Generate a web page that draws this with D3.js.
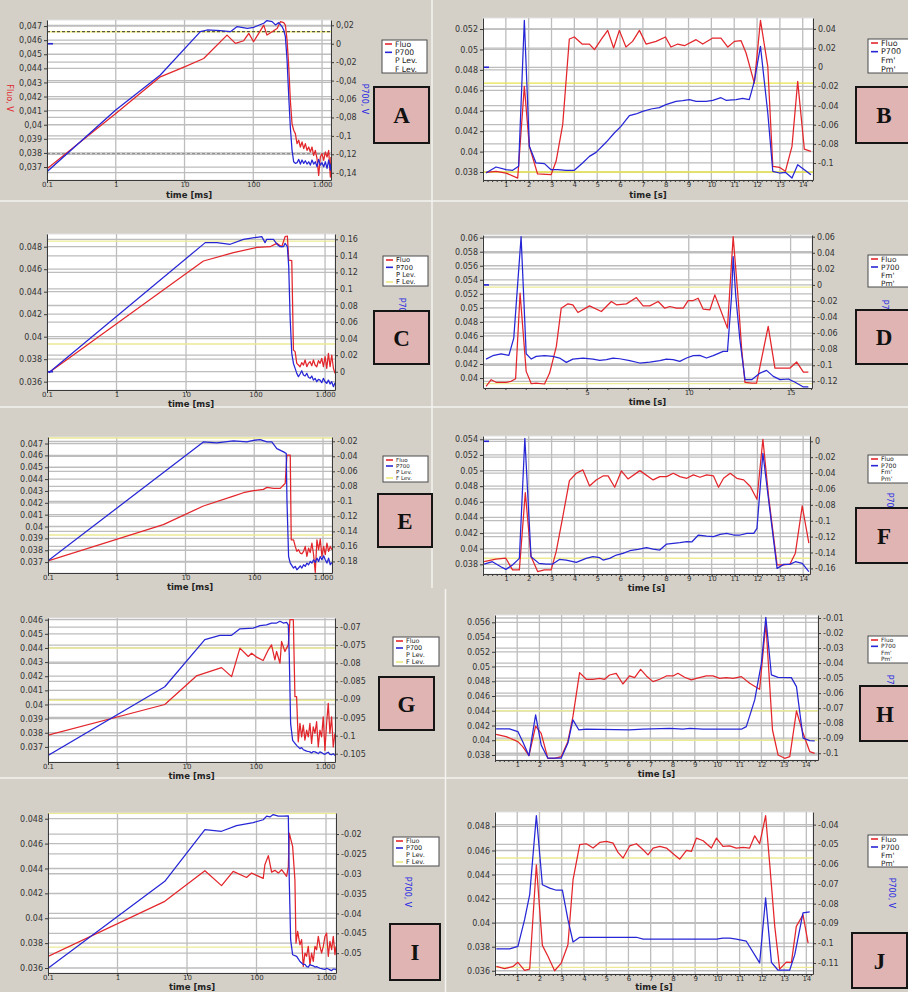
<!DOCTYPE html>
<html>
<head>
<meta charset="utf-8">
<script src="https://cdn.jsdelivr.net/npm/d3@7"></script>
<style>
  html, body { margin: 0; padding: 0; background: #d4d0c8; }
  svg { display: block; }
</style>
</head>
<body>
<svg id="fig" width="908" height="992"></svg>
<script>
// ---------- shared axis data ----------
const logTicks = [0.1, 1, 10, 100, 1000];
const logTickLabels = ["0.1", "1", "10", "100", "1.000"];
const secTicks = [1, 2, 3, 4, 5, 6, 7, 8, 9, 10, 11, 12, 13, 14];
const secTicksD = [5, 10, 15];
const legendLog = ["Fluo", "P700", "P Lev.", "F Lev."];
const legendLin = ["Fluo", "P700", "Fm'", "Pm'"];

// ---------- A : fast induction (ms, log) ----------
const fluoA = [[0.1,0.03688],[1.0,0.04079],[4.45,0.0434],[10,0.04411],[19,0.0447],[41.5,0.04636],[55,0.04577],[72.6,0.04596],[86,0.04648],[101,0.04589],[120,0.04648],[142,0.04707],[158,0.04636],[188,0.0466],[222,0.04683],[248,0.04731],[277,0.04724],[293,0.04707],[310,0.046],[328,0.04411],[346,0.04174],[366,0.04008],[387,0.03961],[409,0.03937],[433,0.03866],[458,0.0389],[484,0.03842],[512,0.03878],[541,0.0383],[572,0.03866],[605,0.03818],[640,0.03842],[676,0.03807],[715,0.03842],[756,0.03783],[799,0.03818],[845,0.03759],[893,0.03641],[945,0.03771],[999,0.03795],[1057,0.03747],[1117,0.03807],[1182,0.03771],[1249,0.03818],[1321,0.03629],[1345,0.03771]];
const p700A = [[0.1,-0.1389],[1.0,-0.0719],[4.45,-0.0339],[17,0.0131],[21.4,0.0149],[33.2,0.0142],[46.5,0.0131],[58.4,0.0186],[82,0.0167],[101,0.0178],[142,0.0222],[158,0.0251],[188,0.024],[210,0.0204],[235,0.0229],[262,0.0186],[277,0.0149],[293,0.0077],[310,-0.0176],[328,-0.0575],[346,-0.091],[366,-0.1154],[387,-0.1281],[409,-0.1299],[433,-0.1291],[458,-0.1255],[484,-0.1306],[512,-0.1262],[541,-0.1299],[572,-0.127],[605,-0.1306],[640,-0.1281],[676,-0.1317],[715,-0.1262],[756,-0.1306],[799,-0.1281],[845,-0.1335],[893,-0.1255],[945,-0.1317],[999,-0.1291],[1057,-0.1335],[1117,-0.1281],[1182,-0.1353],[1249,-0.1262],[1321,-0.1371],[1345,-0.1299]];
const leftTicksA = [0.047,0.046,0.045,0.044,0.043,0.042,0.041,0.04,0.039,0.038,0.037];
const rightTicksA = [0.02,0,-0.02,-0.04,-0.06,-0.08,-0.1,-0.12,-0.14];
const levelsA = [0.0466, 0.03795];

// ---------- B : slow kinetics (s) ----------
const fluoB = [[0.13,0.03797],[0.57,0.03807],[1.01,0.0379],[1.52,0.03741],[1.81,0.04639],[2.03,0.04051],[2.39,0.03781],[2.98,0.03774],[3.2,0.03905],[3.49,0.04264],[3.78,0.05102],[4.0,0.05122],[4.34,0.05053],[4.66,0.05053],[4.88,0.04998],[5.17,0.05096],[5.46,0.05187],[5.72,0.05014],[5.97,0.05187],[6.26,0.05024],[6.55,0.05079],[6.85,0.05187],[7.14,0.05053],[7.58,0.05079],[7.99,0.05122],[8.23,0.05024],[8.53,0.05053],[8.82,0.05037],[9.33,0.05096],[9.62,0.05053],[10.06,0.05112],[10.42,0.05112],[10.72,0.05024],[11.01,0.05079],[11.3,0.05086],[11.52,0.04965],[11.88,0.04671],[12.15,0.05285],[12.47,0.04835],[12.69,0.03856],[12.98,0.03846],[13.24,0.03807],[13.53,0.04051],[13.78,0.04688],[14.07,0.04025],[14.36,0.04002]];
const p700B = [[0.13,-0.1105],[0.57,-0.1042],[1.01,-0.107],[1.3,-0.1077],[1.56,-0.1035],[1.81,0.0491],[2.03,-0.0826],[2.32,-0.1],[2.69,-0.1007],[2.98,-0.107],[3.27,-0.107],[3.64,-0.1077],[4.0,-0.1077],[4.36,-0.1],[4.66,-0.0931],[4.95,-0.0889],[5.39,-0.0784],[5.75,-0.0687],[6.04,-0.0617],[6.41,-0.0506],[6.7,-0.0488],[6.99,-0.046],[7.36,-0.0436],[7.72,-0.0422],[8.01,-0.0391],[8.45,-0.0356],[8.74,-0.0349],[9.04,-0.0338],[9.33,-0.0356],[9.77,-0.0356],[10.06,-0.0345],[10.42,-0.0318],[10.64,-0.0345],[11.08,-0.0338],[11.37,-0.0324],[11.66,-0.0338],[11.88,-0.0147],[12.15,0.0219],[12.47,-0.0478],[12.69,-0.1087],[12.98,-0.1105],[13.24,-0.1098],[13.53,-0.1157],[13.78,-0.1018],[14.07,-0.107],[14.36,-0.1122]];
const leftTicksB = [0.052,0.05,0.048,0.046,0.044,0.042,0.04,0.038];
const rightTicksB = [0.04,0.02,0,-0.02,-0.04,-0.06,-0.08,-0.1];
const levelsB = [0.0467, 0.038];

// ---------- C ----------
const fluoC = [[0.106,0.0368],[17.8,0.04673],[48.2,0.04747],[104,0.04794],[162,0.048],[202,0.0483],[238,0.048],[266,0.04889],[287,0.04895],[300,0.04681],[332,0.04676],[351,0.03881],[371,0.03867],[392,0.03763],[414,0.03748],[437,0.03733],[462,0.03769],[489,0.03748],[516,0.03793],[546,0.03733],[577,0.03763],[609,0.03778],[644,0.03742],[680,0.03793],[719,0.03748],[760,0.03733],[803,0.03787],[848,0.03763],[896,0.03807],[947,0.03733],[1001,0.03822],[1058,0.03719],[1118,0.03852],[1181,0.03733],[1248,0.03837],[1319,0.03719],[1390,0.03674]];
const p700C = [[0.106,-0.0012],[18.9,0.156],[27.7,0.156],[43.2,0.154],[67,0.16],[104,0.1624],[123,0.1632],[137,0.156],[145,0.16],[181,0.16],[202,0.1544],[225,0.1511],[252,0.1511],[266,0.1552],[287,0.1511],[300,0.127],[314,0.0665],[332,0.0222],[351,0.01],[371,0.004],[392,-0.002],[414,-0.006],[437,-0.0028],[462,0.0012],[489,-0.004],[516,-0.0052],[546,-0.002],[577,-0.0068],[609,-0.008],[644,-0.0052],[680,-0.0101],[719,-0.008],[760,-0.0121],[803,-0.0093],[848,-0.0101],[896,-0.0133],[947,-0.008],[1001,-0.0121],[1058,-0.0141],[1118,-0.0101],[1181,-0.0149],[1248,-0.0121],[1319,-0.0181],[1390,-0.0133]];
const leftTicksC = [0.048,0.046,0.044,0.042,0.04,0.038,0.036];
const rightTicksC = [0.16,0.14,0.12,0.1,0.08,0.06,0.04,0.02,0];
const levelsC = [0.0485, 0.03935];

// ---------- D ----------
const fluoD = [[0.05,0.03882],[0.3,0.03976],[0.54,0.03939],[1.04,0.03939],[1.28,0.03953],[1.5,0.03991],[1.72,0.05209],[2.02,0.04095],[2.27,0.0392],[2.51,0.03929],[2.92,0.03915],[3.17,0.04071],[3.5,0.0445],[3.74,0.04995],[4.07,0.05057],[4.31,0.05043],[4.56,0.04934],[5.13,0.05028],[5.71,0.04948],[6.2,0.0509],[6.45,0.05043],[6.94,0.05057],[7.43,0.05147],[7.76,0.05028],[8.09,0.05028],[8.5,0.0509],[8.82,0.04995],[9.07,0.05019],[9.4,0.04995],[9.73,0.04995],[9.97,0.05104],[10.22,0.05104],[10.46,0.05137],[10.71,0.04981],[11.04,0.04972],[11.28,0.05185],[11.53,0.04995],[11.9,0.04711],[12.18,0.06014],[12.43,0.05114],[12.6,0.04403],[12.76,0.03939],[13.09,0.03929],[13.33,0.03929],[13.9,0.04735],[14.23,0.04142],[14.97,0.04142],[15.3,0.04228],[15.63,0.04085],[15.87,0.04085]];
const p700D = [[0.05,-0.0923],[0.38,-0.0881],[0.79,-0.0857],[1.17,-0.0877],[1.41,-0.0662],[1.77,0.06],[2.02,-0.0857],[2.27,-0.0923],[2.51,-0.089],[2.92,-0.0881],[3.33,-0.089],[3.66,-0.091],[3.99,-0.0964],[4.31,-0.0923],[4.81,-0.091],[5.3,-0.0923],[5.63,-0.0939],[5.96,-0.0931],[6.28,-0.091],[6.61,-0.0919],[7.1,-0.0943],[7.59,-0.0972],[8.09,-0.096],[8.58,-0.0943],[8.9,-0.0923],[9.23,-0.0931],[9.56,-0.0952],[9.89,-0.091],[10.22,-0.0881],[10.54,-0.0877],[10.87,-0.091],[11.2,-0.0881],[11.69,-0.0828],[11.9,-0.0828],[12.1,-0.0145],[12.18,0.0352],[12.31,-0.0145],[12.51,-0.0683],[12.76,-0.1179],[13.09,-0.1179],[13.5,-0.1097],[13.82,-0.1064],[14.15,-0.1138],[14.48,-0.1179],[14.89,-0.1171],[15.22,-0.1212],[15.63,-0.127],[15.87,-0.127]];
const leftTicksD = [0.06,0.058,0.056,0.054,0.052,0.05,0.048,0.046,0.044,0.042,0.04];
const rightTicksD = [0.06,0.04,0.02,0,-0.02,-0.04,-0.06,-0.08,-0.1,-0.12];
const levelsD = [0.05295, 0.0392];

// ---------- E ----------
const fluoE = [[0.1,0.03711],[4.76,0.04016],[18.2,0.04173],[49.8,0.04257],[69.6,0.04285],[97.4,0.04302],[136,0.04313],[153,0.0433],[191,0.04322],[239,0.04322],[267,0.0435],[282,0.04364],[299,0.04602],[334,0.04602],[345,0.03888],[373,0.03888],[395,0.03832],[417,0.0379],[441,0.03804],[467,0.03776],[493,0.0377],[522,0.0379],[552,0.03832],[583,0.03748],[617,0.03818],[652,0.03781],[690,0.0386],[730,0.03762],[772,0.03613],[816,0.03888],[863,0.03804],[913,0.03893],[965,0.03748],[1021,0.03832],[1079,0.03762],[1141,0.0386],[1207,0.0379],[1276,0.03832],[1350,0.03804]];
const p700E = [[0.1,-0.1791],[18.2,-0.0209],[28.4,-0.0222],[49.8,-0.0196],[78,-0.0209],[97.4,-0.0187],[122,-0.0178],[153,-0.0209],[180,-0.0209],[213,-0.0297],[267,-0.0341],[292,-0.0364],[299,-0.0982],[316,-0.1734],[334,-0.1822],[373,-0.1888],[395,-0.1866],[417,-0.1911],[441,-0.1888],[467,-0.1858],[493,-0.1888],[522,-0.1844],[552,-0.1866],[583,-0.1822],[617,-0.1844],[652,-0.18],[690,-0.1822],[730,-0.1778],[772,-0.1813],[816,-0.1756],[863,-0.18],[913,-0.1734],[965,-0.1778],[1021,-0.1725],[1079,-0.1778],[1141,-0.1822],[1207,-0.1756],[1276,-0.1844],[1350,-0.1813]];
const leftTicksE = [0.047,0.046,0.045,0.044,0.043,0.042,0.041,0.04,0.039,0.038,0.037];
const rightTicksE = [-0.02,-0.04,-0.06,-0.08,-0.1,-0.12,-0.14,-0.16,-0.18];
const levelsE = [0.04747, 0.03928];

// ---------- F ----------
const fluoF = [[0.05,0.03835],[0.56,0.03865],[1.0,0.03878],[1.29,0.03729],[1.59,0.03729],[1.85,0.04718],[2.1,0.03899],[2.39,0.03707],[2.68,0.03729],[2.98,0.03729],[3.2,0.03963],[3.49,0.04411],[3.78,0.04871],[4.08,0.04965],[4.37,0.05008],[4.66,0.04803],[4.95,0.0488],[5.25,0.04931],[5.47,0.04931],[5.76,0.04786],[6.05,0.04995],[6.34,0.04893],[6.86,0.04999],[7.44,0.0488],[7.73,0.04922],[8.03,0.04922],[8.32,0.04965],[8.61,0.04922],[8.91,0.04901],[9.2,0.04944],[9.49,0.04914],[9.78,0.04944],[10.08,0.04931],[10.3,0.04786],[10.52,0.04901],[10.81,0.04965],[11.1,0.04901],[11.4,0.0488],[11.69,0.04795],[11.98,0.04632],[12.24,0.054],[12.49,0.04667],[12.86,0.03792],[13.15,0.03792],[13.42,0.03801],[13.66,0.03942],[13.96,0.04547],[14.25,0.0407]];
const p700F = [[0.05,-0.1546],[0.41,-0.1516],[0.78,-0.1579],[1.0,-0.1613],[1.29,-0.1558],[1.59,-0.1474],[1.83,0.0038],[2.1,-0.1453],[2.45,-0.1537],[2.76,-0.1546],[3.05,-0.1546],[3.34,-0.1487],[3.64,-0.1495],[4.08,-0.1525],[4.51,-0.1474],[4.81,-0.1453],[5.1,-0.1466],[5.25,-0.1495],[5.54,-0.1474],[5.83,-0.1432],[6.12,-0.1411],[6.42,-0.1378],[6.78,-0.1361],[7.15,-0.134],[7.44,-0.1357],[7.73,-0.1369],[8.03,-0.1294],[8.32,-0.1285],[8.61,-0.1277],[8.91,-0.1264],[9.13,-0.1268],[9.42,-0.118],[9.78,-0.1193],[10.08,-0.1201],[10.37,-0.1172],[10.66,-0.1159],[10.96,-0.118],[11.25,-0.118],[11.54,-0.1159],[11.84,-0.1159],[11.98,-0.1096],[12.24,-0.0151],[12.49,-0.0739],[12.86,-0.16],[13.15,-0.155],[13.42,-0.155],[13.66,-0.1516],[13.96,-0.1537],[14.25,-0.1642]];
const leftTicksF = [0.054,0.052,0.05,0.048,0.046,0.044,0.042,0.04,0.038];
const rightTicksF = [0,-0.02,-0.04,-0.06,-0.08,-0.1,-0.12,-0.14,-0.16];
const levelsF = [0.03877];

// ---------- G ----------
const fluoG = [[0.1,0.03783],[4.86,0.04],[13.9,0.04202],[32.1,0.04261],[44.8,0.04197],[59.1,0.04399],[78,0.0434],[87.1,0.04363],[103,0.04335],[128,0.04311],[152,0.04387],[169,0.04422],[189,0.04316],[200,0.04375],[224,0.04292],[236,0.04446],[264,0.04375],[279,0.04399],[295,0.04422],[312,0.046],[349,0.046],[368,0.04055],[389,0.04055],[411,0.03736],[435,0.03866],[460,0.03771],[486,0.03854],[513,0.03748],[543,0.03819],[574,0.03771],[606,0.03866],[641,0.03724],[677,0.03842],[716,0.03795],[757,0.03878],[800,0.037],[845,0.03819],[893,0.03771],[944,0.03913],[998,0.03676],[1055,0.03866],[1115,0.04008],[1178,0.03795],[1245,0.03913],[1316,0.037],[1391,0.03795]];
const p700G = [[0.1,-0.1055],[4.86,-0.0865],[18.4,-0.0735],[30.3,-0.0723],[44.8,-0.0723],[59.1,-0.0705],[92.1,-0.0703],[115,-0.0696],[143,-0.0694],[169,-0.0689],[200,-0.0689],[224,-0.0684],[250,-0.0689],[279,-0.0687],[295,-0.0694],[305,-0.0781],[319,-0.0967],[341,-0.1013],[389,-0.1027],[435,-0.1036],[460,-0.1033],[486,-0.1039],[513,-0.1041],[543,-0.1043],[574,-0.1044],[606,-0.1045],[641,-0.1048],[677,-0.1044],[716,-0.1045],[757,-0.1047],[800,-0.105],[845,-0.1045],[893,-0.1047],[944,-0.105],[998,-0.1052],[1055,-0.1048],[1115,-0.1046],[1178,-0.1052],[1245,-0.1053],[1316,-0.105],[1391,-0.1055]];
const leftTicksG = [0.046,0.045,0.044,0.043,0.042,0.041,0.04,0.039,0.038,0.037];
const rightTicksG = [-0.07,-0.075,-0.08,-0.085,-0.09,-0.095,-0.1,-0.105];
const levelsG = [0.044, 0.0403];

// ---------- H ----------
const fluoH = [[0.05,0.0408],[0.5,0.04049],[1.03,0.03981],[1.25,0.03913],[1.53,0.03791],[1.83,0.04193],[2.08,0.04094],[2.38,0.03755],[2.68,0.03755],[2.98,0.03777],[3.28,0.03981],[3.51,0.0432],[3.81,0.04917],[4.11,0.04827],[4.41,0.04827],[4.71,0.0484],[4.94,0.04827],[5.16,0.04885],[5.46,0.04908],[5.76,0.04763],[6.06,0.04872],[6.29,0.04849],[6.56,0.04962],[6.82,0.04872],[7.12,0.04795],[7.42,0.04827],[7.72,0.04872],[8.02,0.04872],[8.24,0.04908],[8.54,0.04854],[8.84,0.04818],[9.07,0.0484],[9.52,0.04872],[9.82,0.04872],[10.12,0.0484],[10.42,0.04849],[10.72,0.0484],[11.1,0.04863],[11.47,0.04772],[11.92,0.04691],[12.2,0.05586],[12.5,0.04139],[12.75,0.038],[13.05,0.03755],[13.28,0.03777],[13.58,0.04397],[13.88,0.04094],[14.18,0.03845],[14.4,0.03822]];
const p700H = [[0.05,-0.0838],[0.65,-0.0838],[1.03,-0.0856],[1.25,-0.0923],[1.53,-0.1016],[1.83,-0.0745],[2.08,-0.0945],[2.38,-0.1033],[2.98,-0.1033],[3.28,-0.0934],[3.51,-0.0778],[3.78,-0.0845],[4.11,-0.084],[6.06,-0.0845],[6.66,-0.084],[7.87,-0.0834],[8.47,-0.084],[8.77,-0.0834],[9.37,-0.084],[11.1,-0.084],[11.32,-0.0823],[11.7,-0.0645],[12.0,-0.0402],[12.2,-0.0096],[12.45,-0.0479],[12.75,-0.0495],[13.35,-0.0497],[13.58,-0.0557],[13.88,-0.09],[14.18,-0.0916],[14.4,-0.0918]];
const leftTicksH = [0.056,0.054,0.052,0.05,0.048,0.046,0.044,0.042,0.04,0.038];
const rightTicksH = [-0.01,-0.02,-0.03,-0.04,-0.05,-0.06,-0.07,-0.08,-0.09,-0.1];
const levelsH = [0.044, 0.04];

// ---------- I ----------
const fluoI = [[0.1,0.03694],[4.79,0.04136],[18.1,0.04382],[31.4,0.04262],[46.2,0.04377],[71.9,0.04328],[84.9,0.04363],[125,0.0432],[132,0.0443],[148,0.04503],[165,0.04371],[184,0.04385],[206,0.04363],[230,0.0439],[271,0.04337],[287,0.04412],[296,0.04685],[331,0.04578],[357,0.0431],[370,0.038],[391,0.03894],[422,0.03787],[446,0.03828],[471,0.03613],[498,0.0372],[526,0.03694],[556,0.03774],[588,0.03627],[621,0.0372],[656,0.03653],[694,0.03774],[733,0.03747],[775,0.03854],[819,0.03774],[865,0.0372],[914,0.03774],[966,0.03854],[1021,0.03881],[1079,0.03694],[1140,0.03814],[1205,0.03747],[1273,0.03854],[1346,0.03707],[1391,0.03774]];
const p700I = [[0.1,-0.0538],[4.79,-0.0319],[18.1,-0.0189],[31.4,-0.0193],[51.6,-0.0179],[89.8,-0.0171],[125,-0.0164],[140,-0.0155],[156,-0.0157],[174,-0.0151],[206,-0.0155],[243,-0.0155],[287,-0.0154],[296,-0.0315],[310,-0.0466],[331,-0.0504],[378,-0.0508],[422,-0.0521],[446,-0.0525],[471,-0.0529],[498,-0.0528],[526,-0.0534],[556,-0.0535],[588,-0.0529],[621,-0.0531],[656,-0.0532],[694,-0.0535],[733,-0.0534],[775,-0.0536],[819,-0.0538],[865,-0.0539],[914,-0.054],[966,-0.0541],[1021,-0.0538],[1079,-0.054],[1140,-0.0542],[1205,-0.0544],[1273,-0.054],[1346,-0.054],[1391,-0.0542]];
const leftTicksI = [0.048,0.046,0.044,0.042,0.04,0.038,0.036];
const rightTicksI = [-0.02,-0.025,-0.03,-0.035,-0.04,-0.045,-0.05];
const levelsI = [0.04843, 0.03768];

// ---------- J ----------
const fluoJ = [[0.06,0.03636],[0.43,0.03617],[0.81,0.03636],[1.03,0.0367],[1.33,0.03603],[1.56,0.03614],[1.86,0.04481],[2.13,0.03811],[2.38,0.0372],[2.68,0.036],[2.98,0.03664],[3.28,0.03816],[3.51,0.04357],[3.81,0.04648],[4.11,0.04656],[4.41,0.0462],[4.71,0.04667],[5.01,0.04675],[5.31,0.04661],[5.53,0.04584],[5.76,0.04537],[6.06,0.04639],[6.36,0.04656],[6.66,0.04606],[6.88,0.04564],[7.11,0.0462],[7.41,0.04634],[7.71,0.0462],[8.01,0.04573],[8.31,0.04528],[8.61,0.046],[8.83,0.04592],[9.06,0.04703],[9.36,0.04681],[9.73,0.0462],[9.96,0.04703],[10.25,0.04634],[10.55,0.04639],[10.85,0.0462],[11.15,0.04625],[11.45,0.0462],[11.68,0.04722],[11.9,0.04656],[12.17,0.04889],[12.35,0.04495],[12.58,0.03969],[12.8,0.03614],[13.1,0.03672],[13.33,0.0367],[13.55,0.03969],[13.85,0.04066],[14.08,0.0383]];
const p700J = [[0.06,-0.1029],[0.66,-0.1029],[1.03,-0.1016],[1.33,-0.0881],[1.56,-0.0754],[1.86,-0.0354],[2.13,-0.0704],[2.46,-0.0721],[2.76,-0.0732],[3.03,-0.0732],[3.28,-0.0881],[3.51,-0.0994],[3.81,-0.097],[6.36,-0.097],[6.66,-0.0979],[9.96,-0.0979],[10.25,-0.0974],[10.55,-0.0974],[10.85,-0.0979],[11.3,-0.099],[11.9,-0.11],[12.17,-0.0771],[12.43,-0.1097],[12.73,-0.1137],[13.25,-0.1137],[13.48,-0.1058],[13.85,-0.0847],[14.15,-0.0842]];
const leftTicksJ = [0.048,0.046,0.044,0.042,0.04,0.038,0.036];
const rightTicksJ = [-0.04,-0.05,-0.06,-0.07,-0.08,-0.09,-0.1,-0.11];
const levelsJ = [0.04537, 0.03628];

// ---------- panel layout ----------
const panels = [
  { id: "A", log: true, fluo: fluoA, p700: p700A, lt: leftTicksA, rt: rightTicksA, levels: levelsA,
    plot: [47, 20, 331, 180], xDom: [0.1, 1350], lDom: [0.03608, 0.04743], rDom: [-0.1479, 0.02575],
    comma: true, dashedLevels: true, legend: [382, 40, 45, 33], box: [374, 87, 55, 56],
    p700Title: [365, 99], fluoTitle: [10, 98], titleDy: 18 },
  { id: "B", log: false, fluo: fluoB, p700: p700B, lt: leftTicksB, rt: rightTicksB, levels: levelsB,
    plot: [483, 18, 813, 180], xDom: [0, 14.45], lDom: [0.03722, 0.05308], rDom: [-0.1178, 0.0515],
    xt: secTicks, legend: [868, 39, 46, 34], box: [856, 87, 56, 56], strongYellow: true, titleDy: 17.5 },
  { id: "C", log: true, fluo: fluoC, p700: p700C, lt: leftTicksC, rt: rightTicksC, levels: levelsC,
    plot: [47, 234, 335, 390], xDom: [0.1, 1390], lDom: [0.03526, 0.04913], rDom: [-0.0221, 0.1664],
    legend: [383, 256, 45, 30], box: [374, 311, 55, 53], p700Title: [402, 313], titleDy: 16.5 },
  { id: "D", log: false, fluo: fluoD, p700: p700D, lt: leftTicksD, rt: rightTicksD, levels: levelsD,
    plot: [483, 235, 812, 388], xDom: [-0.1, 16.05], lDom: [0.03858, 0.06038], rDom: [-0.1283, 0.0621],
    xt: secTicksD, legend: [868, 255, 46, 32], box: [856, 310, 56, 54], p700Title: [885, 315], titleDy: 17 },
  { id: "E", log: true, fluo: fluoE, p700: p700E, lt: leftTicksE, rt: rightTicksE, levels: levelsE,
    plot: [48, 437, 332, 573], xDom: [0.1, 1352], lDom: [0.03608, 0.04755], rDom: [-0.1954, -0.0143],
    legend: [383, 456, 45, 26], box: [378, 494, 54, 53], titleDy: 16.5 },
  { id: "F", log: false, fluo: fluoF, p700: p700F, lt: leftTicksF, rt: rightTicksF, levels: levelsF,
    plot: [483, 436, 810, 574], xDom: [0, 14.3], lDom: [0.03676, 0.05442], rDom: [-0.1671, 0.00668],
    xt: secTicks, legend: [868, 455, 46, 28], box: [856, 508, 56, 55], p700Title: [890, 508], titleDy: 16.5 },
  { id: "G", log: true, fluo: fluoG, p700: p700G, lt: leftTicksG, rt: rightTicksG, levels: levelsG,
    plot: [48, 618, 335, 762], xDom: [0.1, 1395], lDom: [0.03593, 0.04612], rDom: [-0.1073, -0.0675],
    legend: [393, 637, 46, 29], box: [379, 677, 55, 53], titleDy: 16.5 },
  { id: "H", log: false, fluo: fluoH, p700: p700H, lt: leftTicksH, rt: rightTicksH, levels: levelsH,
    plot: [495, 615, 818, 760], xDom: [0, 14.55], lDom: [0.03732, 0.05699], rDom: [-0.1045, -0.008],
    xt: secTicks, legend: [868, 636, 46, 27], box: [860, 686, 50, 55], p700Title: [890, 690], titleDy: 16.5 },
  { id: "I", log: true, fluo: fluoI, p700: p700I, lt: leftTicksI, rt: rightTicksI, levels: levelsI,
    plot: [48, 813, 336, 973], xDom: [0.1, 1393], lDom: [0.0356, 0.04846], rDom: [-0.055, -0.0147],
    legend: [393, 837, 46, 29], box: [390, 924, 50, 56], p700Title: [408, 892], titleDy: 16.5 },
  { id: "J", log: false, fluo: fluoJ, p700: p700J, lt: leftTicksJ, rt: rightTicksJ, levels: levelsJ,
    plot: [495, 812, 813, 974], xDom: [0, 14.3], lDom: [0.03573, 0.0492], rDom: [-0.1156, -0.0336],
    xt: secTicks, legend: [868, 835, 46, 32], box: [852, 933, 55, 55], p700Title: [892, 893], titleDy: 15.8 }
];

// ---------- drawing ----------
const FONT = "'DejaVu Sans', 'Liberation Sans', sans-serif";
const RED = "#e3262b", BLUE = "#2626d6", GRID = "#bdbdbd", AXIS = "#3a3a3a";
const svg = d3.select("#fig");

svg.append("rect").attr("width", 908).attr("height", 992).attr("fill", "#d4d0c8");

// white frame lines between the panel groups
const frame = svg.append("g").attr("stroke", "#f4f3ef").attr("stroke-width", 1.5);
[[0, 201, 908, 201], [0, 407, 908, 407], [0, 778, 908, 778], [432, 0, 432, 588], [445.5, 589, 445.5, 992]]
  .forEach(([a, b, c, d]) => frame.append("line").attr("x1", a).attr("y1", b).attr("x2", c).attr("y2", d));

const num = v => String(+v.toFixed(4));

function styleAxis(sel, size) {
  sel.attr("font-family", FONT).attr("font-size", size);
  sel.selectAll("path.domain").attr("stroke", AXIS);
  sel.selectAll(".tick line").attr("stroke", AXIS);
  sel.selectAll(".tick text").attr("fill", "#333");
}

function drawPanel(p) {
  const [x0, y0, x1, y1] = p.plot;
  const g = svg.append("g").attr("class", "panel-" + p.id);
  const x = (p.log ? d3.scaleLog() : d3.scaleLinear()).domain(p.xDom).range([x0, x1]);
  const yL = d3.scaleLinear().domain(p.lDom).range([y1, y0]);
  const yR = d3.scaleLinear().domain(p.rDom).range([y1, y0]);
  const fmt = p.comma ? v => num(v).replace(".", ",") : num;
  const xTicks = p.log ? logTicks : p.xt;

  g.append("rect").attr("x", x0).attr("y", y0).attr("width", x1 - x0).attr("height", y1 - y0)
    .attr("fill", "#ffffff").attr("stroke", "#e2e2e2");

  // grid
  const grid = g.append("g").attr("stroke", GRID).attr("stroke-width", 1.3);
  xTicks.forEach(t => grid.append("line").attr("x1", x(t)).attr("x2", x(t)).attr("y1", y0).attr("y2", y1));
  p.lt.forEach(v => grid.append("line").attr("x1", x0).attr("x2", x1).attr("y1", yL(v)).attr("y2", yL(v)));
  p.rt.forEach(v => grid.append("line").attr("x1", x0).attr("x2", x1).attr("y1", yR(v)).attr("y2", yR(v)));

  // level markers
  const lv = g.append("g");
  p.levels.forEach((v, i) => {
    if (p.dashedLevels) {
      if (i === 0) {
        lv.append("line").attr("x1", x0).attr("x2", x1).attr("y1", yL(v)).attr("y2", yL(v))
          .attr("stroke", "#f2ee7a").attr("stroke-width", 1.6);
        lv.append("line").attr("x1", x0).attr("x2", x1).attr("y1", yL(v)).attr("y2", yL(v))
          .attr("stroke", "#333").attr("stroke-width", 1).attr("stroke-dasharray", "3,2");
      } else {
        lv.append("line").attr("x1", x0).attr("x2", x1).attr("y1", yL(v)).attr("y2", yL(v))
          .attr("stroke", "#8a8a8a").attr("stroke-width", 1).attr("stroke-dasharray", "3,2");
      }
    } else {
      lv.append("line").attr("x1", x0).attr("x2", x1).attr("y1", yL(v)).attr("y2", yL(v))
        .attr("stroke", p.strongYellow ? "#e8e34a" : "#ecea96").attr("stroke-width", 1.4);
    }
  });

  // traces
  const clipId = "clip" + p.id;
  g.append("clipPath").attr("id", clipId).append("rect")
    .attr("x", x0).attr("y", y0 - 1).attr("width", x1 - x0).attr("height", y1 - y0 + 2);
  const traces = g.append("g").attr("clip-path", `url(#${clipId})`).attr("fill", "none")
    .attr("stroke-linejoin", "round");
  traces.append("path").datum(p.fluo)
    .attr("d", d3.line().x(d => x(d[0])).y(d => yL(d[1])))
    .attr("stroke", RED).attr("stroke-width", 1.25);
  traces.append("path").datum(p.p700)
    .attr("d", d3.line().x(d => x(d[0])).y(d => yR(d[1])))
    .attr("stroke", BLUE).attr("stroke-width", 1.25);
  // P700 zero reference at the start of the record
  if (p.rDom[0] <= 0 && p.rDom[1] >= 0) {
    traces.append("line").attr("x1", x0).attr("x2", x0 + 6).attr("y1", yR(0)).attr("y2", yR(0))
      .attr("stroke", BLUE).attr("stroke-width", 1.6);
  }

  // axes
  const aL = g.append("g").attr("transform", `translate(${x0},0)`)
    .call(d3.axisLeft(yL).tickValues(p.lt).tickFormat(fmt).tickSizeInner(3).tickSizeOuter(0).tickPadding(2));
  styleAxis(aL, 8);
  const aR = g.append("g").attr("transform", `translate(${x1},0)`)
    .call(d3.axisRight(yR).tickValues(p.rt).tickFormat(fmt).tickSizeInner(3).tickSizeOuter(0).tickPadding(2));
  styleAxis(aR, 8);
  const aB = g.append("g").attr("transform", `translate(0,${y1})`)
    .call(d3.axisBottom(x).tickValues(xTicks)
      .tickFormat((d, i) => p.log ? logTickLabels[i] : String(d))
      .tickSizeInner(3).tickSizeOuter(0).tickPadding(-0.5));
  styleAxis(aB, 7);
  if (!p.log) {
    const minor = d3.range(Math.ceil(p.xDom[0] * 5) / 5, p.xDom[1], p.xt === secTicksD ? 1 : 0.2)
      .filter(t => t >= p.xDom[0]);
    const aM = g.append("g").attr("transform", `translate(0,${y1})`)
      .call(d3.axisBottom(x).tickValues(minor).tickFormat("").tickSizeInner(2).tickSizeOuter(0));
    aM.select("path.domain").remove();
    aM.selectAll(".tick line").attr("stroke", AXIS);
  }

  g.append("text").attr("x", (x0 + x1) / 2).attr("y", y1 + p.titleDy).attr("text-anchor", "middle")
    .attr("font-family", FONT).attr("font-size", 8.5).attr("font-weight", "bold").attr("fill", "#222")
    .text(p.log ? "time [ms]" : "time [s]");

  if (p.fluoTitle) {
    g.append("text").attr("transform", `translate(${p.fluoTitle[0]},${p.fluoTitle[1]}) rotate(90)`)
      .attr("text-anchor", "middle").attr("dy", "0.35em")
      .attr("font-family", FONT).attr("font-size", 8).attr("fill", "#e0282e").text("Fluo, V");
  }
  if (p.p700Title) {
    g.append("text").attr("transform", `translate(${p.p700Title[0]},${p.p700Title[1]}) rotate(90)`)
      .attr("text-anchor", "middle").attr("dy", "0.35em")
      .attr("font-family", FONT).attr("font-size", 8).attr("fill", "#2b2be0").text("P700, V");
  }

  // legend
  const [lx, ly, lw, lh] = p.legend;
  const names = p.log ? legendLog : legendLin;
  const step = (lh - 8) / 3;
  const fs = Math.min(9, step * 0.92);
  const lg = g.append("g");
  lg.append("rect").attr("x", lx).attr("y", ly).attr("width", lw).attr("height", lh)
    .attr("fill", "#fff").attr("stroke", "#4a4a4a").attr("stroke-width", 1);
  const markColors = [RED, BLUE, "#ffffff", (p.log && !p.comma) ? "#eeea80" : "#ffffff"];
  names.forEach((name, i) => {
    const cy = ly + 4 + step * i;
    lg.append("line").attr("x1", lx + 3).attr("x2", lx + 10).attr("y1", cy).attr("y2", cy)
      .attr("stroke", markColors[i]).attr("stroke-width", 1.6);
    lg.append("text").attr("x", lx + 13).attr("y", cy).attr("dy", "0.35em")
      .attr("font-family", FONT).attr("font-size", fs).attr("fill", "#222").text(name);
  });

  // panel letter
  const [bx, by, bw, bh] = p.box;
  g.append("rect").attr("x", bx).attr("y", by).attr("width", bw).attr("height", bh)
    .attr("fill", "#e0b4b3").attr("stroke", "#151515").attr("stroke-width", 2);
  g.append("text").attr("x", bx + bw / 2).attr("y", by + bh / 2).attr("dy", "0.36em")
    .attr("text-anchor", "middle").attr("font-family", "'Liberation Serif', 'Times New Roman', serif")
    .attr("font-weight", "bold").attr("font-size", 23).attr("fill", "#111").text(p.id);
}

panels.forEach(drawPanel);
</script>
</body>
</html>
